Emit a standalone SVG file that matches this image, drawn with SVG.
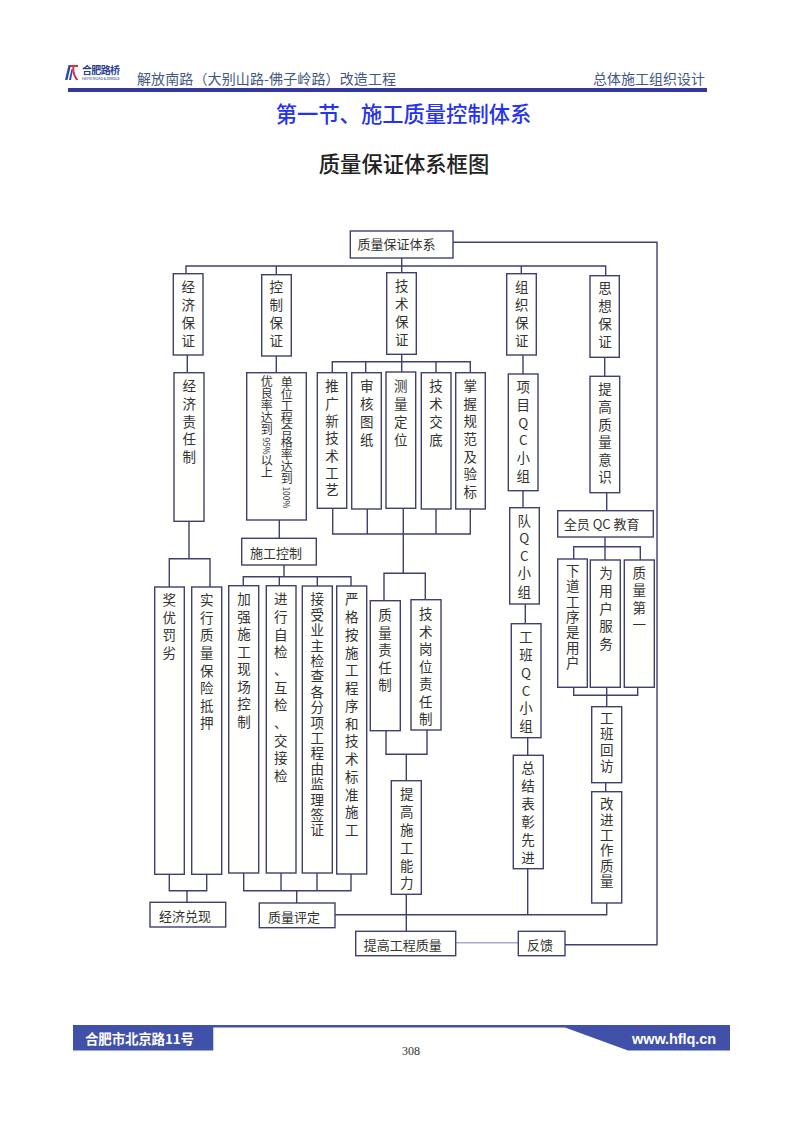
<svg xmlns="http://www.w3.org/2000/svg" width="793" height="1122" viewBox="0 0 793 1122">
<style>
text{font-family:"Noto Sans CJK SC","Liberation Sans",sans-serif}
.b{fill:#fffffd;stroke:#3f3f70;stroke-width:1.4}
.t{font-size:13.5px;fill:#333;text-anchor:middle}
.h{font-size:13px;fill:#333;text-anchor:middle}
.c path{fill:none;stroke:#3f3f70;stroke-width:1.4}
</style>
<rect width="793" height="1122" fill="#fff"/>
<g id="header">
<path d="M65 80 L68.500 65 H71 L67.500 80ZM69 80 L71.500 69 L73 69 L71 80Z" fill="#2c4aa8"/>
<path d="M69.500 65 H78 V67 H74.500 C73.500 71 75.500 76 78.500 80 H76 C73 76 71.500 71 72.500 67 H70Z" fill="#d8343c"/>
<text x="82" y="74" font-size="10px" font-weight="700" fill="#2a3f92" textLength="38">合肥路桥</text>
<text x="82" y="80" font-size="4px" fill="#2a3f92" font-family="Liberation Sans" textLength="38">HEFEI ROAD &amp; BRIDGE</text>
<text x="137" y="83.500" font-size="14px" fill="#44577f" textLength="259">解放南路（大别山路-佛子岭路）改造工程</text>
<text x="593" y="83.500" font-size="14px" fill="#44577f">总体施工组织设计</text>
<rect x="68" y="88" width="639" height="4" fill="#34389c"/>
</g>
<text x="403.500" y="122" font-size="21.300px" font-weight="500" fill="#2532ee" text-anchor="middle">第一节、施工质量控制体系</text>
<text x="404" y="172" font-size="21.300px" font-weight="500" fill="#222" text-anchor="middle">质量保证体系框图</text>
<g id="connectors" class="c">
<path d="M186 273.700V266H605.700V275.700M276.300 266V274.700M401.700 258V272.700M521.300 266V273.700"/>
<path d="M187.300 355V372.700M276.300 356V372.700M523 355V374M523 490.700V507.700M525.300 604V623.700M527.700 737.700V755.300M604.700 357.300V376.300M606.700 492.700V510.700"/>
<path d="M332.300 372.700V361.700H470.300V372.700M401.700 354.300V372M365.700 361.700V372.700M436 361.700V372.700"/>
<path d="M332.700 508.300V534H470.300V509M367.300 509V534M436 509V534M403.300 508.300V573.300M384 600.700V573.300H425.300V599.700"/>
<path d="M189 521.300V558.700M169.300 587V558.700H210V587M279.300 520V538.300M284 565V576.700M243.300 585.700V576.700H351V586M279.300 576.700V585.700M317.300 576.700V586"/>
<path d="M169.300 874.300V890.700H206.700V874.300M187 890.700V902.300M243.700 873V890.700H351V874M281 873V890.700M317 873V890.700M296.700 890.700V903"/>
<path d="M386 730.700V754.300H427V730M406.300 754.300V780.700M406.300 894.300V931.300"/>
<path d="M335 914.700H606.700V903M527.700 868.700V914.700"/>
<path d="M573.700 559V546.700H640.300V560M605 537V560M573.700 687.300V695.300H637.700V687.300M606.700 687.300V706.700M605.700 782.700V791.700"/>
<path d="M565 944.700H657V242.300H453"/>
<path d="M455.700 942.700H518.300" style="stroke:#a9a9cc"/>
</g>
<g id="n1"><rect class="b" x="350.300" y="231" width="102.700" height="27"/><text class="h" x="396.500" y="249">质量保证体系</text></g>
<g id="n2"><rect class="b" x="173.300" y="273.700" width="29.700" height="81.300"/><text class="t" x="188.300 188.300 188.300 188.300" y="292 310 328 346">经济保证</text></g>
<g id="n3"><rect class="b" x="261.700" y="274.700" width="29.600" height="81.300"/><text class="t" x="276.300 276.300 276.300 276.300" y="292 310 328 346">控制保证</text></g>
<g id="n4"><rect class="b" x="386.700" y="272.700" width="29.600" height="81.600"/><text class="t" x="401.700 401.700 401.700 401.700" y="291 309 327 345">技术保证</text></g>
<g id="n5"><rect class="b" x="506.700" y="273.700" width="29.600" height="81.300"/><text class="t" x="521.700 521.700 521.700 521.700" y="292 310 328 346">组织保证</text></g>
<g id="n6"><rect class="b" x="590" y="275.700" width="29.300" height="81.600"/><text class="t" x="605 605 605 605" y="293 311 329 347">思想保证</text></g>
<g id="n7"><rect class="b" x="174" y="372.700" width="30" height="148.600"/><text class="t" x="189.300 189.300 189.300 189.300 189.300" y="391 409 427 444 462">经济责任制</text></g>
<g id="n8"><rect class="b" x="246.700" y="372.700" width="59.600" height="147.300"/>
<text x="286.700" y="376.500" font-size="12px" fill="#333" style="writing-mode:vertical-rl;text-anchor:start">单位工程合格率达到<tspan font-size="8.500px"> 100%</tspan></text>
<text x="266.700" y="375.500" font-size="12px" fill="#333" style="writing-mode:vertical-rl;text-anchor:start">优良率达到<tspan font-size="8.500px"> 95%</tspan>以上</text></g>
<g id="n9"><rect class="b" x="317.300" y="372.700" width="29.400" height="135.600"/><text class="t" x="332 332 332 332 332 332 332" y="391 408.500 426 443 460.500 478 495">推广新技术工艺</text></g>
<g id="n10"><rect class="b" x="351.700" y="372.700" width="29.600" height="136.300"/><text class="t" x="366.700 366.700 366.700 366.700" y="391 409 427 445">审核图纸</text></g>
<g id="n11"><rect class="b" x="386" y="372" width="29.700" height="136.300"/><text class="t" x="400.700 400.700 400.700 400.700" y="391 409 427 445">测量定位</text></g>
<g id="n12"><rect class="b" x="421.300" y="372.700" width="29.700" height="136.300"/><text class="t" x="436 436 436 436" y="391 409 427 445">技术交底</text></g>
<g id="n13"><rect class="b" x="455.700" y="372.700" width="29.600" height="136.300"/><text class="t" x="470.300 470.300 470.300 470.300 470.300 470.300 470.300" y="391 408.500 426 444 461.500 479 496.500">掌握规范及验标</text></g>
<g id="n14"><rect class="b" x="508.300" y="374" width="29.700" height="116.700"/><text class="t" x="523.300 523.300 523.300 523.300 523.300 523.300" y="392 410 427.500 445 463 480.500">项目QC小组</text></g>
<g id="n15"><rect class="b" x="509.700" y="507.700" width="29.600" height="96.300"/><text class="t" x="524.300 524.300 524.300 524.300 524.300" y="525.500 543.300 560.700 577.700 596.700">队QC小组</text></g>
<g id="n16"><rect class="b" x="511.300" y="623.700" width="29.700" height="114"/><text class="t" x="526 526 526 526 526 526" y="641.700 659.500 677.500 695.500 713 731">工班QC小组</text></g>
<g id="n17"><rect class="b" x="513.300" y="755.300" width="30" height="113.400"/><text class="t" x="528 528 528 528 528 528" y="773.300 791 809 827 845 862.700">总结表彰先进</text></g>
<g id="n18"><rect class="b" x="590" y="376.300" width="29.700" height="116.400"/><text class="t" x="605 605 605 605 605 605" y="394 411.700 429.500 447 465 482.300">提高质量意识</text></g>
<g id="n19"><rect class="b" x="557.700" y="510.700" width="95.600" height="26.300"/><text class="h" x="601.700" y="528.500">全员 QC 教育</text></g>
<g id="n20"><rect class="b" x="557.700" y="559" width="29.600" height="128.300"/><text class="t" x="572.700 572.700 572.700 572.700 572.700 572.700 572.700" y="575.700 591 606.500 622 637 652.500 668.300">下道工序是用户</text></g>
<g id="n21"><rect class="b" x="590.300" y="560" width="30" height="127.300"/><text class="t" x="606 606 606 606 606" y="577.700 595.500 613.500 631 649">为用户服务</text></g>
<g id="n22"><rect class="b" x="624.300" y="560" width="30" height="127.300"/><text class="t" x="639.300 639.300 639.300 639.300" y="577.700 595 612.500 630">质量第一</text></g>
<g id="n23"><rect class="b" x="591.700" y="706.700" width="30" height="76"/><text class="t" x="606.700 606.700 606.700 606.700" y="723.300 739 755 771">工班回访</text></g>
<g id="n24"><rect class="b" x="591.700" y="791.700" width="30" height="111.300"/><text class="t" x="606.700 606.700 606.700 606.700 606.700 606.700" y="809.300 824.500 840 855 870.500 885.700">改进工作质量</text></g>
<g id="n25"><rect class="b" x="154.700" y="587" width="29.600" height="287.300"/><text class="t" x="169.300 169.300 169.300 169.300" y="605 622.500 640 657.700">奖优罚劣</text></g>
<g id="n26"><rect class="b" x="191.700" y="587" width="30" height="287.300"/><text class="t" x="206.700 206.700 206.700 206.700 206.700 206.700 206.700 206.700" y="605 622.500 640 658 675.500 693 710.700 728.300">实行质量保险抵押</text></g>
<g id="n27"><rect class="b" x="228.700" y="585.700" width="30" height="287.300"/><text class="t" x="244 244 244 244 244 244 244 244" y="604.300 621.800 639.300 657 674.300 692 709.300 726.700">加强施工现场控制</text></g>
<g id="n28"><rect class="b" x="266.300" y="585.700" width="29.700" height="287.300"/><text class="t" x="280.700 280.700 280.700 280.700 280.700 280.700 280.700 280.700 280.700 280.700 280.700" y="604.300 622 639.700 657.300 675 692.700 710.300 728 745.700 763.300 781">进行自检、互检、交接检</text></g>
<g id="n29"><rect class="b" x="302.300" y="586" width="30" height="287"/><text class="t" x="317.300 317.300 317.300 317.300 317.300 317.300 317.300 317.300 317.300 317.300 317.300 317.300 317.300 317.300 317.300 317.300" y="604.300 619.700 635 650.500 665.900 681.300 696.700 712 727.500 742.900 758.300 773.700 789 804.500 819.900 835">接受业主检查各分项工程由监理签证</text></g>
<g id="n30"><rect class="b" x="336.700" y="586" width="30" height="288"/><text class="t" x="351.700 351.700 351.700 351.700 351.700 351.700 351.700 351.700 351.700 351.700 351.700 351.700 351.700 351.700" y="604.300 622 639.800 657.600 675.300 693 710.800 728.500 746.300 764 781.800 799.500 817.300 835">严格按施工程序和技术标准施工</text></g>
<g id="n31"><rect class="b" x="370.300" y="600.700" width="30" height="130"/><text class="t" x="385 385 385 385 385" y="620 637.500 655 672.500 690">质量责任制</text></g>
<g id="n32"><rect class="b" x="411" y="599.700" width="30" height="130.300"/><text class="t" x="425.700 425.700 425.700 425.700 425.700 425.700 425.700" y="619 636.500 654 671.500 689 706.500 724">技术岗位责任制</text></g>
<g id="n33"><rect class="b" x="391.300" y="780.700" width="30" height="113.600"/><text class="t" x="406.700 406.700 406.700 406.700 406.700 406.700" y="799.300 817 835 853 870.500 888.300">提高施工能力</text></g>
<g id="n34"><rect class="b" x="241.700" y="538.300" width="74.600" height="26.700"/><text class="h" x="276" y="557.500">施工控制</text></g>
<g id="n35"><rect class="b" x="150" y="902.300" width="75.700" height="24.700"/><text class="h" x="185" y="920.500">经济兑现</text></g>
<g id="n36"><rect class="b" x="259.300" y="903" width="75.700" height="24.700"/><text class="h" x="294" y="921.500">质量评定</text></g>
<g id="n37"><rect class="b" x="355.700" y="931.300" width="100" height="24.400"/><text class="h" x="402.700" y="949.500">提高工程质量</text></g>
<g id="n38"><rect class="b" x="518.300" y="931.300" width="46.700" height="24.400"/><text class="h" x="540" y="949.700">反馈</text></g>
<g id="footer">
<path d="M73 1025H730V1050.500H628L565 1027.500H213.300V1050.500H73Z" fill="#4151a9"/>
<text x="85" y="1044" font-size="13.500px" font-weight="700" fill="#fff" textLength="109">合肥市北京路11号</text>
<text x="632" y="1044" font-size="14.500px" font-weight="700" fill="#fff" style="font-family:'Liberation Sans',sans-serif" textLength="84">www.hflq.cn</text>
<text x="411" y="1055" font-size="12px" fill="#333" text-anchor="middle" style="font-family:'Liberation Serif',serif">308</text>
</g>
</svg>
